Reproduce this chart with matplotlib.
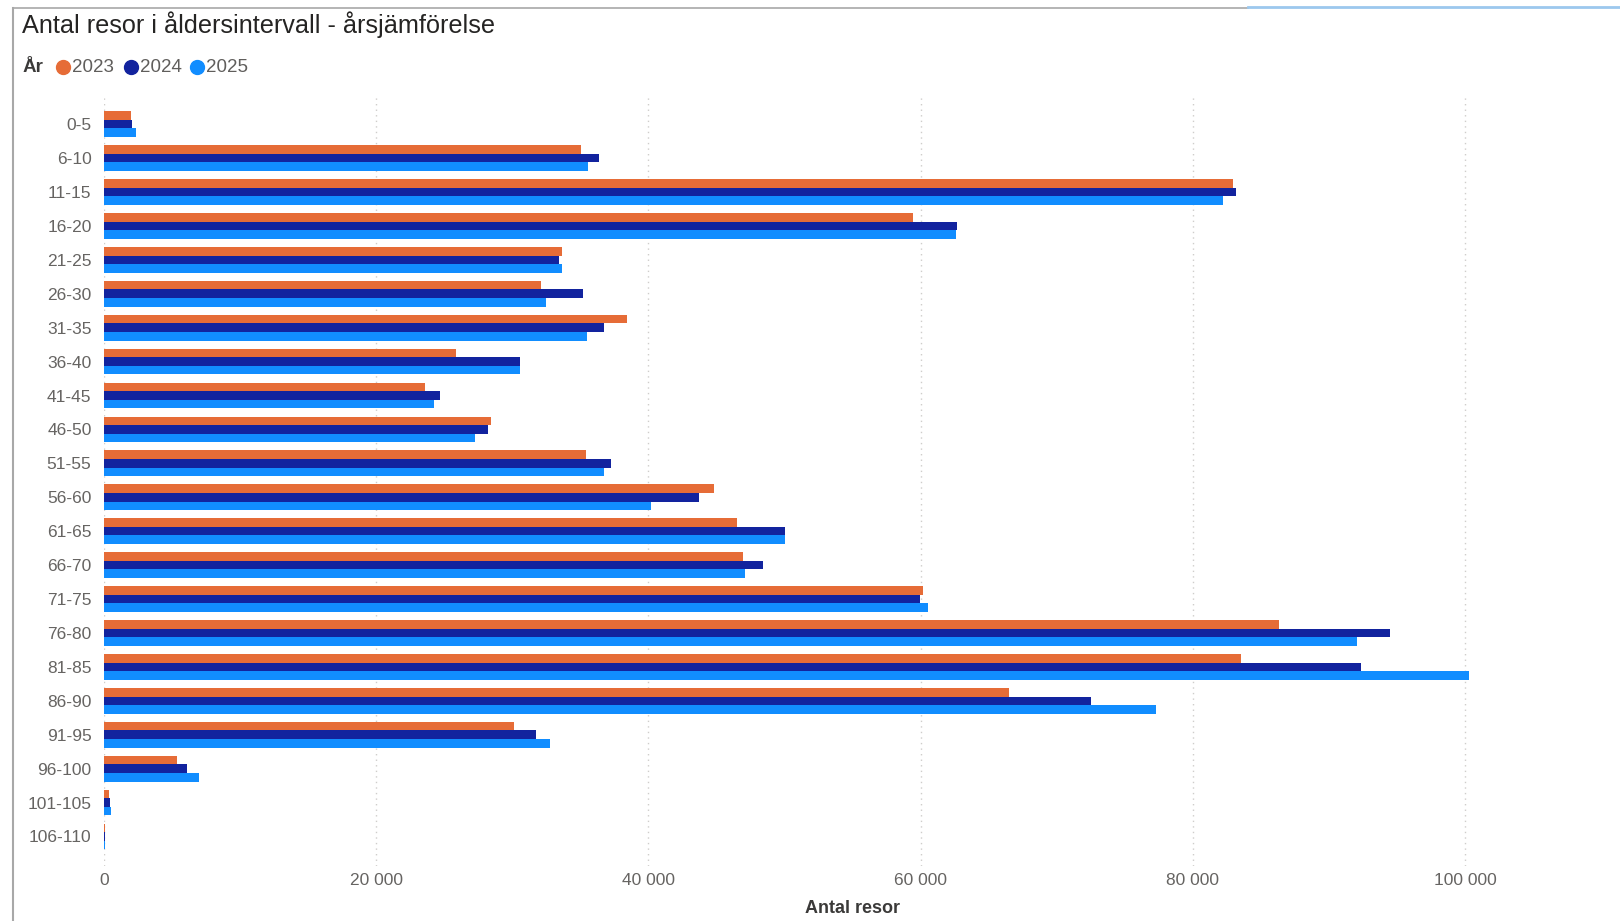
import matplotlib
matplotlib.use("Agg")
import matplotlib.pyplot as plt
from matplotlib.ticker import FuncFormatter, MultipleLocator
from matplotlib.lines import Line2D
import numpy as np

plt.rcParams['font.family'] = ['Liberation Sans', 'DejaVu Sans']

# Antal resor per åldersintervall och år
aldersgrupper = ['0-5', '6-10', '11-15', '16-20', '21-25', '26-30', '31-35', '36-40',
                 '41-45', '46-50', '51-55', '56-60', '61-65', '66-70', '71-75', '76-80',
                 '81-85', '86-90', '91-95', '96-100', '101-105', '106-110']
ar = ['2023', '2024', '2025']
resor_2023 = [2000, 35070, 82940, 59480, 33650, 32130, 38400, 25870, 23570, 28440, 35420,
              44790, 46490, 46920, 60170, 86340, 83530, 66490, 30100, 5400, 350, 80]
resor_2024 = [2060, 36400, 83160, 62670, 33460, 35200, 36760, 30590, 24720, 28190, 37250,
              43720, 50050, 48440, 59940, 94500, 92340, 72520, 31750, 6080, 450, 50]
resor_2025 = [2370, 35560, 82210, 62620, 33630, 32500, 35490, 30540, 24230, 27260, 36750,
              40190, 50010, 47120, 60560, 92040, 100300, 77270, 32760, 7010, 500, 40]
farger = ['#E66C37', '#12239E', '#118DFF']

fig = plt.figure(figsize=(16.2, 9.21), dpi=100)
ax = fig.add_axes([104 / 1620, 1 - 866 / 921, (1601 - 104) / 1620, (866 - 96) / 921])

y = np.arange(len(aldersgrupper))
h = 0.253
for i, (serie, farg) in enumerate(zip([resor_2023, resor_2024, resor_2025], farger)):
    ax.barh(y + (i - 1) * h, serie, height=h, color=farg, linewidth=0, zorder=3)

ax.set_ylim(len(aldersgrupper) - 0.13, -0.83)
ax.set_xlim(0, 110000)
ax.xaxis.set_major_locator(MultipleLocator(20000))
ax.xaxis.set_major_formatter(FuncFormatter(lambda v, p: f"{int(v):,}".replace(",", " ")))
ax.set_yticks(y)
ax.set_yticklabels(aldersgrupper)

for s in ax.spines.values():
    s.set_visible(False)
ax.tick_params(axis='both', length=0, labelsize=12.5, colors='#666462')
ax.tick_params(axis='y', pad=9)
ax.tick_params(axis='x', pad=5)
ax.grid(axis='x', linestyle=(0, (1, 3)), color='#CFCDCB', linewidth=1, zorder=0)

ax.set_xlabel('Antal resor', fontsize=13, color='#3B3A39', fontweight='bold', labelpad=9)

# Rubrik och förklaring
fig.text(22 / 1620, 1 - 25 / 921, 'Antal resor i åldersintervall - årsjämförelse',
         fontsize=18.2, color='#252423', va='center', ha='left')
fig.text(22 / 1620, 1 - 67 / 921, 'År', fontsize=13.5, color='#3B3A39',
         fontweight='bold', va='center', ha='left')
for xm, namn, farg in zip([63, 131, 197], ar, farger):
    fig.add_artist(Line2D([xm / 1620], [1 - 67 / 921], marker='o', markersize=10,
                          color=farg, linestyle='none', transform=fig.transFigure))
    fig.text((xm + 9) / 1620, 1 - 67 / 921, namn, fontsize=13.5, color='#605E5C',
             va='center', ha='left')

# Ram runt visualiseringen
fig.add_artist(Line2D([13 / 1620, 13 / 1620], [0, 1 - 8 / 921], color='#A8A8A8',
                      linewidth=1.5, transform=fig.transFigure))
fig.add_artist(Line2D([13 / 1620, 1248 / 1620], [1 - 8 / 921, 1 - 8 / 921], color='#A8A8A8',
                      linewidth=1.2, transform=fig.transFigure))
fig.add_artist(Line2D([1248 / 1620, 1], [1 - 7 / 921, 1 - 7 / 921], color='#9CC8EE',
                      linewidth=2, transform=fig.transFigure))

fig.savefig('out.png', dpi=100)
